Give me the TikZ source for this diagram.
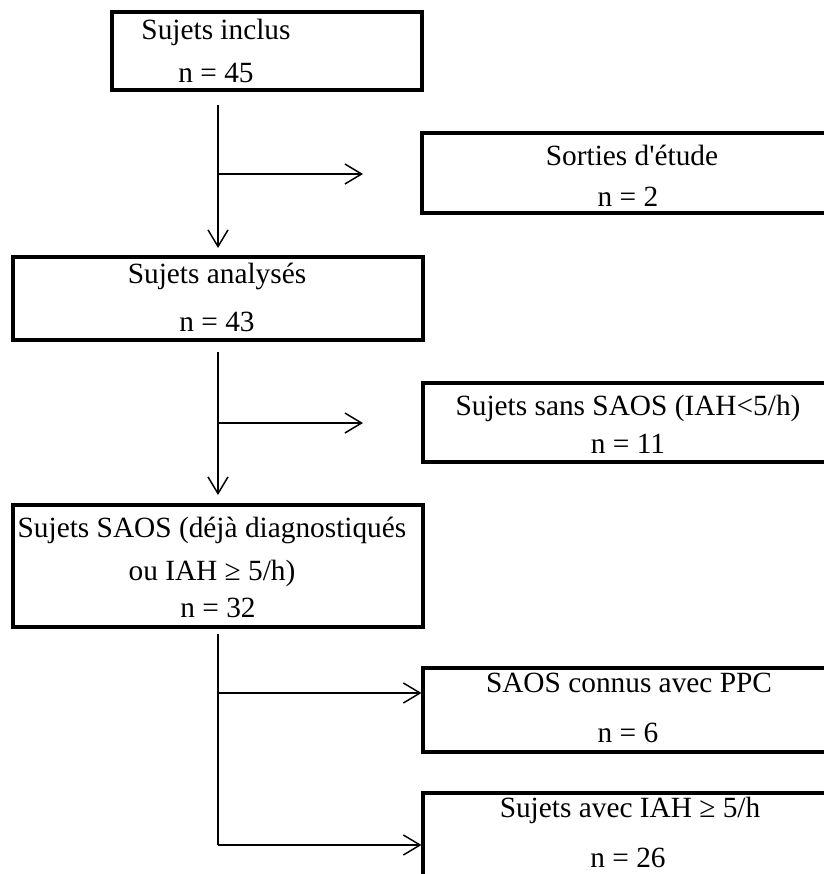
\documentclass[tikz,border=0pt]{standalone}
\usepackage{fontspec}
\setmainfont{Liberation Serif}[Ligatures=TeXOff]
\usetikzlibrary{arrows.meta,fit}
\begin{document}
\begin{tikzpicture}[x=0.75pt,y=-0.75pt,
  box/.style={draw=black,line width=2.3pt,inner sep=0pt},
  txt/.style={anchor=base,inner sep=0pt,font=\fontsize{22}{26}\selectfont},
  conn/.style={line width=1.1pt},
  arr/.style={conn,-{Straight Barb[length=12.5pt,width=15pt,line width=1.1pt]}}]
\clip (0,0) rectangle (824,874);
\useasboundingbox (0,0) rectangle (824,874);
% boxes
\node[box,fit={(112,12) (422,90)}] (b1) {};
\node[box,fit={(422,133) (834,213)}] (b2) {};
\node[box,fit={(13,257) (423,340)}] (b3) {};
\node[box,fit={(423,383) (834,462)}] (b4) {};
\node[box,fit={(13,505) (423,627)}] (b5) {};
\node[box,fit={(423,668) (834,752)}] (b6) {};
\node[box,fit={(423,793) (834,900)}] (b7) {};
% texts
\node[txt] (t1a) at (216,40) {Sujets inclus};
\node[txt] (t1b) at (216,83) {n = 45};
\node[txt] (t2a) at (632,165) {Sorties d'étude};
\node[txt] (t2b) at (628,206) {n = 2};
\node[txt] (t3a) at (217,283) {Sujets analysés};
\node[txt] (t3b) at (217,331) {n = 43};
\node[txt] (t4a) at (628,415) {Sujets sans SAOS (IAH<5/h)};
\node[txt] (t4b) at (628,453) {n = 11};
\node[txt] (t5a) at (212,537) {Sujets SAOS (déjà diagnostiqués};
\node[txt] (t5b) at (212,580) {ou IAH ≥ 5/h)};
\node[txt] (t5c) at (218,617) {n = 32};
\node[txt] (t6a) at (629,692) {SAOS connus avec PPC};
\node[txt] (t6b) at (628,742) {n = 6};
\node[txt] (t7a) at (630,817) {Sujets avec IAH ≥ 5/h};
\node[txt] (t7b) at (628,867) {n = 26};
% connectors
\coordinate (s1) at (218,105);
\coordinate (e1) at (218,248);
\coordinate (j1) at (218,174);
\coordinate (h1) at (363,174);
\draw[arr] (s1) -- (e1);
\draw[arr] (j1) -- (h1);
\coordinate (s2) at (218,352);
\coordinate (e2) at (218,495);
\coordinate (j2) at (218,423);
\coordinate (h2) at (363,423);
\draw[arr] (s2) -- (e2);
\draw[arr] (j2) -- (h2);
\coordinate (s3) at (218,634);
\coordinate (j3) at (218,693);
\coordinate (j4) at (218,845);
\draw[conn] (s3) -- (j4);
\draw[arr] (j3) -- (j3 -| b6.west);
\draw[arr] (j4) -- (j4 -| b7.west);
\end{tikzpicture}
\end{document}
